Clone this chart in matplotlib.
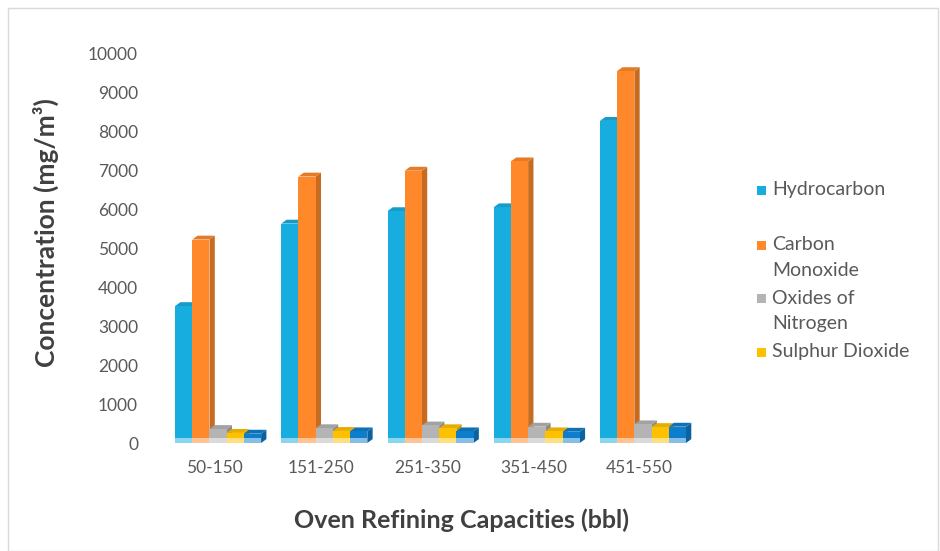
import numpy as np
import matplotlib
matplotlib.use("Agg")
import matplotlib.pyplot as plt
from matplotlib.patches import Polygon, Rectangle
from matplotlib.colors import to_rgb

plt.rcParams['font.family'] = ['Lato', 'DejaVu Sans']

categories = ["50-150", "151-250", "251-350", "351-450", "451-550"]
hydrocarbon = [3520, 5640, 5960, 6060, 8280]
carbon_monoxide = [5230, 6850, 7000, 7240, 9560]
oxides_nitrogen = [360, 380, 450, 420, 480]
sulphur_dioxide = [260, 310, 380, 300, 410]
other = [240, 300, 300, 290, 420]

series = [hydrocarbon, carbon_monoxide, oxides_nitrogen, sulphur_dioxide, other]
legend_labels = [["Hydrocarbon"], ["Carbon", "Monoxide"], ["Oxides of", "Nitrogen"], ["Sulphur Dioxide"]]
colors = ["#17ADDF", "#FF892A", "#B4B4B4", "#FFC000", "#0E7DCB"]


def shade(c, f):
    r, g, b = to_rgb(c)
    return (r * f, g * f, b * f)


def tint(c, f):
    r, g, b = to_rgb(c)
    return (r + (1 - r) * f, g + (1 - g) * f, b + (1 - b) * f)


W, H = 940, 551
fig = plt.figure(figsize=(W / 100, H / 100), dpi=100)
ax = fig.add_axes([0.172, 0.196, 0.565, 0.706])

bw = 0.162
dx, dy = 0.05, 100
x = np.arange(len(categories))
for i, (vals, col) in enumerate(zip(series, colors)):
    pos = x - 2 * bw + i * bw - 0.05
    for xi, v in zip(pos, vals):
        ax.add_patch(Rectangle((xi, 0), bw, v, facecolor=col, edgecolor="none", zorder=3))
        ax.add_patch(Rectangle((xi, 0), bw, 120, facecolor=tint(col, 0.5), edgecolor="none", zorder=3))
        ax.add_patch(Polygon([(xi + bw, 0), (xi + bw + dx, dy), (xi + bw + dx, v + dy), (xi + bw, v)],
                             closed=True, facecolor=shade(col, 0.78), edgecolor="none", zorder=2))
        ax.add_patch(Polygon([(xi, v), (xi + dx, v + dy), (xi + bw + dx, v + dy), (xi + bw, v)],
                             closed=True, facecolor=shade(col, 0.9), edgecolor="none", zorder=2))

ax.set_xlim(-0.5, len(categories) - 0.5)
ax.set_ylim(0, 10000)
ax.set_yticks(np.arange(0, 10001, 1000))
ax.set_xticks(x)
ax.set_xticklabels(categories)
ax.tick_params(length=0, labelsize=12.5, labelcolor="#595959")
ax.tick_params(axis="y", pad=17)
ax.tick_params(axis="x", pad=12)
for s in ax.spines.values():
    s.set_visible(False)

ax.set_ylabel("Concentration (mg/m³)", fontsize=19, fontweight="bold", color="#404040")
ax.set_xlabel("Oven Refining Capacities (bbl)", fontsize=18, fontweight="bold", color="#404040")
ax.yaxis.set_label_coords(-0.218, 0.542)
ax.yaxis.label.set_va("center")
ax.xaxis.set_label_coords(0.564, -0.198)
ax.xaxis.label.set_va("center")

# legend drawn by hand to match the spacing of the original
line_h = 25
entry_y = [190, 245, 298, 352]
for col, lines, y0 in zip(colors[:4], legend_labels, entry_y):
    fig.patches.append(Rectangle((757 / W, 1 - (y0 + 5) / H), 9 / W, 9 / H,
                                 transform=fig.transFigure, facecolor=col, edgecolor="none"))
    for k, t in enumerate(lines):
        fig.text(772 / W, 1 - (y0 + k * line_h) / H, t, fontsize=14, color="#595959",
                 ha="left", va="center")

fig.patches.append(Rectangle((0.009, 0.0), 0.989, 0.985, transform=fig.transFigure,
                             fill=False, edgecolor="#D9D9D9", linewidth=1))

fig.savefig("out.png", dpi=100)
